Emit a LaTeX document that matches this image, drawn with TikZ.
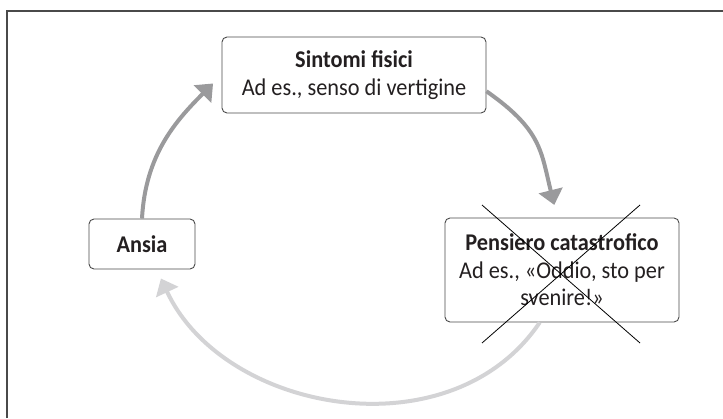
\documentclass[tikz,border=0pt]{standalone}
\usepackage{fontspec}
\setmainfont{Carlito}[FakeStretch=0.93]
\usetikzlibrary{arrows.meta}
\definecolor{arrdark}{HTML}{9A9A9C}
\definecolor{arrlight}{HTML}{D3D3D5}
\definecolor{boxline}{HTML}{4A4A4A}
\definecolor{txt}{HTML}{231F20}
\begin{document}
\begin{tikzpicture}[x=1pt, y=1pt, >={Triangle[width=24pt,length=15pt]},
  box/.style={draw=boxline, rounded corners=5pt, line width=.9pt, align=center, text=txt, inner sep=0pt, font=\fontsize{24}{27.5}\selectfont},
  loop/.style={->, line width=4pt}]
\useasboundingbox (0,0) rectangle (723,418);
\draw[boxline, line width=1.2pt] (7,0)--(7,407)--(723,407);
\node[box, minimum width=264pt, minimum height=76pt] (sint) at (354,343) {\textbf{Sintomi fisici}\\Ad es., senso di vertigine};
\node[box, minimum width=106pt, minimum height=50pt] (ansia) at (142,174) {\textbf{Ansia}};
\node[box, minimum width=234pt, minimum height=104pt] (pens) at (562,148) {\textbf{Pensiero catastrofico}\\Ad es., «Oddio, sto per\\svenire!»};
% cross over the thought
\draw[line width=.8pt] (pens.center) ++(-80,65) -- ++(158,-138);
\draw[line width=.8pt] (pens.center) ++(78,65) -- ++(-158,-138);
% the loop
\draw[loop, arrdark, shorten >=12pt] (ansia.north) to[out=87,in=225] (sint.west);
\draw[loop, arrdark, shorten >=13pt] (sint.-7) to[out=-35,in=104,looseness=1.2] (pens.95);
\draw[loop, arrlight, shorten >=10pt] (pens.247) to[out=-124,in=-65,looseness=1.05] (ansia.-60);
\end{tikzpicture}
\end{document}
